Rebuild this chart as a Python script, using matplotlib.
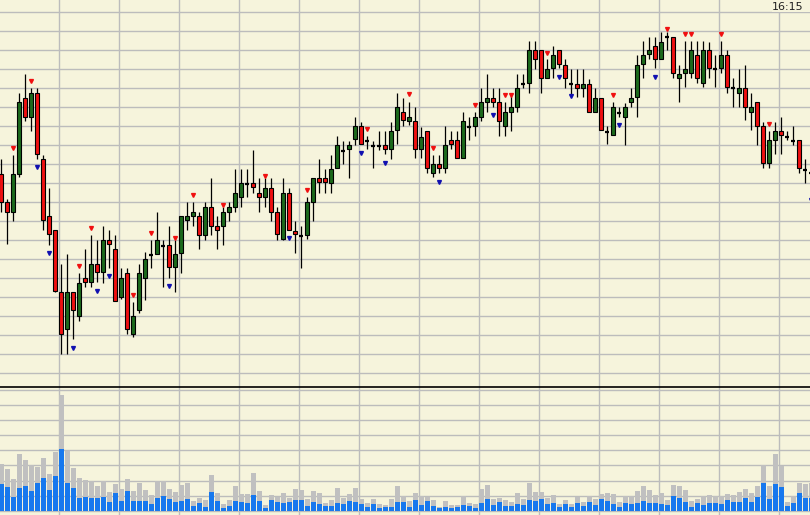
import matplotlib
matplotlib.use("Agg")
import matplotlib.pyplot as plt
import numpy as np
from matplotlib.patches import Rectangle

# price levels (arbitrary chart units), one entry per bar
opens = [212.7, 184.7, 175.3, 213.3, 288.7, 270.3, 293.7, 228, 171, 156.7,
         94.7, 57.7, 94.7, 71.3, 108.7, 104.7, 123, 114.7, 146.7, 137.7,
         90.3, 113.7, 52.7, 77, 109.3, 132.3, 133.3, 141, 141.7, 119.7,
         133.7, 166.7, 171.3, 170.7, 152.3, 179.7, 160.7, 161, 175.3, 180.3,
         190.3, 203.3, 203.7, 193.7, 190.3, 198.7, 174.7, 147.7, 193.7, 156.3,
         151.3, 152, 185.3, 208.7, 208.7, 204.3, 218.7, 236.3, 237.7, 247.7,
         261, 246.3, 241.3, 241.3, 241.7, 237.7, 257, 274.7, 266.3, 266,
         237.7, 256, 213.7, 222.7, 218.7, 247, 247, 228.7, 260.3, 261,
         270.3, 285.3, 288.7, 284.7, 261.3, 275.3, 280.3, 302.7, 303.7, 337,
         337, 308.7, 318.7, 337, 322, 302.7, 302.7, 299.3, 302.7, 275.3,
         288.7, 255.3, 252, 274.3, 270.3, 285.3, 289.7, 322.7, 332.7, 341,
         327.7, 350.3, 350.3, 308.7, 313.7, 313.7, 332, 303.7, 337, 317.7,
         318.7, 332, 298.7, 294.3, 298.7, 275.3, 285.3, 261, 223.7, 247,
         256, 250.3, 246.3, 247, 217, 214]
highs = [228, 188, 232, 293.7, 313, 298.7, 298.7, 232, 199.3, 157,
         123, 133, 94.7, 113.7, 137.7, 152, 147, 161.3, 156.7, 152,
         118.7, 118.7, 85.3, 122.7, 135.3, 147, 175.3, 147, 161, 147,
         170.7, 184.7, 184.7, 175.3, 184.7, 208.7, 170.7, 179.7, 184.7, 218,
         218, 218, 237, 208.7, 208.7, 208.7, 179.7, 208.7, 198.7, 166,
         161, 189.7, 208.7, 227.7, 218, 232, 251, 246.3, 246.3, 270.3,
         265.3, 251, 246.3, 256, 256, 265.5, 294, 288.7, 284.7, 279.7,
         260.3, 256, 232, 232, 261, 256.3, 256.3, 275.3, 269.7, 275.3,
         298.7, 313, 298.7, 298.7, 284.7, 293.7, 313, 313, 346, 346,
         337, 327.7, 341, 337, 327.7, 317.7, 317.7, 317.7, 307.7, 298.7,
         288.7, 261, 285.3, 279.7, 284.3, 298.7, 332, 346, 350.3, 350.3,
         355.3, 355.3, 350.3, 322, 346.3, 346.3, 346.3, 346.3, 345.3, 332,
         346.3, 337, 308.7, 317.7, 322, 294.3, 285.3, 265.3, 256, 265.3,
         269.7, 256, 261, 247, 227.7, 218]
lows = [175.3, 142.7, 166, 209.7, 266, 256.3, 228, 157, 142, 95,
        33, 33, 47.7, 66.3, 100.3, 100.3, 104.7, 104.3, 119.3, 86,
        88, 52.7, 50, 74, 87, 119.3, 133.3, 100.3, 109.3, 95.3,
        114.3, 157, 161, 138, 147, 152.3, 138, 142, 166, 175.3,
        180.3, 189.7, 194.3, 175.3, 180.3, 166, 147, 147, 157, 133.7,
        119.3, 147.7, 166, 194.3, 194.3, 194.3, 218.7, 223, 209.3, 242,
        242.7, 237.7, 218.7, 237, 233, 228.5, 242.7, 261, 262, 228.7,
        228.7, 213.7, 209.7, 213.7, 213.7, 237.7, 228.7, 228.7, 247, 251,
        266, 275.3, 280.3, 251.3, 251.3, 256.3, 275.3, 299, 294.3, 318,
        294.3, 308.7, 308.7, 318.7, 299.3, 289.7, 289.7, 289.7, 275.3, 275.3,
        257, 242.7, 252, 270.3, 242, 279.7, 270.3, 308.7, 327.7, 318.7,
        327.7, 337, 308.7, 285.3, 299.7, 308.7, 303.7, 299.7, 308.7, 299.7,
        313.7, 294.3, 280.3, 280.3, 267, 257, 242, 218.7, 218.7, 233,
        233, 247, 242, 213.7, 204.3, 195]
closes = [185.3, 175.3, 212.7, 284.7, 270.3, 293.7, 232.7, 166.7, 152.7, 95.7,
          52.7, 94.7, 77, 103.7, 104.7, 123, 114.7, 146.7, 142.7, 86,
          108.7, 57.7, 70.7, 113.7, 128, 132.3, 147, 141, 119.7, 132.7,
          170.7, 170.7, 175, 152.3, 179.7, 161, 157.3, 175, 179.7, 193.7,
          203.7, 203.3, 199.7, 190.3, 198.7, 175.3, 152.7, 193.7, 157, 152.7,
          151.3, 184.7, 208.7, 204.7, 204.7, 217.7, 241.7, 236.3, 241.7, 261,
          242.7, 246.3, 241.3, 241.3, 237.7, 256, 279.7, 267, 269.7, 237.7,
          250.3, 218.7, 222.7, 218.7, 241.7, 242.7, 228.7, 266, 260.3, 269.7,
          284.7, 288.7, 285.3, 266, 274.7, 279.7, 298.7, 302.7, 337, 327.7,
          308.7, 317.7, 332, 322.7, 308.7, 302.7, 299.3, 302.7, 275.3, 288.7,
          257, 255.3, 279.7, 274.3, 279.7, 288.7, 322, 332, 337, 327.7,
          345.3, 350.3, 313.7, 313, 317.7, 337, 308.7, 337, 318.7, 317.7,
          332, 299.7, 298.7, 298.7, 280.3, 280.3, 261.3, 223.7, 247, 256,
          252, 250.3, 246.3, 218.7, 217, 214]

# volume: total (grey) and the blue part
vol_total = [46.7, 41.7, 31.7, 56.7, 50.7, 45.7, 43.7, 52.7, 36.7, 58.7,
             115.7, 60, 42.7, 32.7, 30.7, 29.7, 24.7, 29.7, 18.7, 26.7,
             21.7, 31.7, 19.7, 27.7, 20.7, 15.7, 29.7, 29.7, 21.7, 18.7,
             25.7, 27.7, 9.7, 12.7, 10.7, 35.7, 17.7, 6.7, 10.7, 24.7,
             16.7, 16.7, 37.7, 19.7, 5.7, 15.7, 14, 17.7, 12.7, 21.7,
             20.7, 11.7, 19.7, 17.7, 7.7, 10.7, 22.7, 12.7, 16.7, 22.7,
             11.7, 7.7, 11.7, 6.7, 5.7, 11.7, 24.7, 14.7, 9.7, 17.7,
             14.7, 14, 10.7, 3.7, 9.7, 5.7, 5.7, 14.7, 7.7, 6.7,
             21.7, 25.7, 11.7, 12.7, 10.7, 8.7, 17.7, 11.7, 27.7, 18.7,
             18.7, 12.7, 15.7, 6.7, 10.7, 6.7, 13.7, 8.7, 14.7, 11.7,
             16.7, 17.7, 16.7, 8.7, 14.7, 14.7, 19.7, 24.7, 20.7, 15.7,
             17.7, 10.7, 25.7, 24.7, 20.7, 9.7, 11.7, 14.7, 15.7, 14.7,
             14.7, 16.7, 15.7, 18.7, 21.7, 17.7, 24.7, 45.7, 24.7, 56.7,
             44.7, 8.7, 14.7, 27.7, 26.7, 27.4]
vol_blue = [26.7, 23.7, 13.7, 22.7, 24.7, 19.7, 27.7, 32.7, 20.7, 34.7,
            61.7, 27.7, 22.7, 12.7, 13.7, 12.7, 12.7, 13.7, 8.7, 17.7,
            9.7, 19.7, 9.7, 9.7, 9.7, 6.7, 12.7, 14.7, 11.7, 8.7,
            9.7, 11.7, 4.7, 7.7, 3.7, 18.7, 9.7, 2.7, 4.7, 9.7,
            8.7, 7.7, 15.7, 9.7, 2.7, 10.7, 8.7, 7.7, 8.7, 10.7,
            10.7, 4.7, 8.7, 6.7, 4.7, 4.7, 7.7, 6.7, 9.7, 8.7,
            6.7, 3.7, 6.7, 2.7, 3.7, 3.7, 8.7, 8.7, 3.7, 10.7,
            5.7, 9.7, 4.7, 2.7, 3.7, 2.7, 3.7, 5.7, 4.7, 2.7,
            7.7, 11.7, 5.7, 8.7, 4.7, 4.7, 6.7, 5.7, 10.7, 9.7,
            11.7, 6.7, 7.7, 3.7, 6.7, 3.7, 7.7, 4.7, 8.7, 5.7,
            11.7, 9.7, 6.7, 3.7, 7.7, 6.7, 7.7, 9.7, 7.7, 7.7,
            6.7, 5.7, 14.7, 12.7, 8.7, 3.7, 7.7, 5.7, 7.7, 7.7,
            6.7, 10.7, 8.7, 8.7, 12.7, 8.7, 13.7, 27.7, 11.7, 26.7,
            23.7, 4.7, 7.7, 17.7, 12.7, 12.4]

# signal marks: (bar index, level)
red_marks = [(2, 239), (5, 306), (13, 120.7), (15, 159), (22, 92), (25, 154.3),
             (29, 148.7), (32, 192), (37, 182), (44, 211), (51, 197), (61, 257.7),
             (68, 292.7), (72, 239.3), (79, 282), (84, 292), (85, 292), (91, 333.7),
             (102, 292), (111, 358), (114, 353), (115, 353), (120, 353), (128, 263)]
blue_marks = [(6, 219.7), (8, 133.7), (12, 39), (16, 96.3), (18, 110.7), (28, 101),
              (48, 148.7), (60, 234), (64, 224.3), (73, 204.7), (82, 271.7),
              (93, 309.7), (95, 290.7), (103, 262), (109, 309.7), (135, 187)]

time_label = "16:15"

bg = "#f6f4dc"
grid_c = "#bcbcbc"
up_c = "#1c6a1c"
down_c = "#f01010"

o = np.array(opens)
h = np.array(highs)
l = np.array(lows)
c = np.array(closes)
x = np.arange(len(o))

fig = plt.figure(figsize=(8.1, 5.15), dpi=100, facecolor=bg)
ax = fig.add_axes([0, 128.3 / 515, 1, 386.7 / 515])
axv = fig.add_axes([0, 0, 1, 128.3 / 515])

xlim = (-1.3 / 6, (810 - 1.3) / 6)
vgrid = np.arange(9.57, 135, 10)

for a in (ax, axv):
    a.set_facecolor(bg)
    a.set_xlim(*xlim)
    a.set_xticks(vgrid)
    a.tick_params(length=0, labelbottom=False, labelleft=False)
    a.grid(True, color=grid_c, linewidth=1.0)
    a.set_axisbelow(True)
    for s in a.spines.values():
        s.set_visible(False)

ax.set_ylim(0.3, 387)
ax.set_yticks(np.arange(13.7, 387, 19))
axv.set_ylim(-4.3, 124)
axv.set_yticks(np.arange(0, 124, 15.1))
axv.spines["top"].set_visible(True)
axv.spines["top"].set_color("black")
axv.spines["top"].set_linewidth(1.2)

# wicks
ax.vlines(x, l, h, color="black", linewidth=0.9, zorder=2)

bw = 0.68
up = c > o
down = c < o
flat = c == o
ax.bar(x[up], (c - o)[up], bottom=o[up], width=bw, color=up_c,
       edgecolor="black", linewidth=0.8, zorder=3)
ax.bar(x[down], (o - c)[down], bottom=c[down], width=bw, color=down_c,
       edgecolor="black", linewidth=0.8, zorder=3)
ax.hlines(o[flat], x[flat] - bw / 2, x[flat] + bw / 2,
          color="black", linewidth=1.6, zorder=3)

rx, ry = zip(*red_marks)
bx, by = zip(*blue_marks)
ax.plot(rx, ry, linestyle="none", marker="v", markersize=2.8,
        color="#f01010", zorder=4)
ax.plot(bx, by, linestyle="none", marker="v", markersize=2.8,
        color="#1010b0", zorder=4)

# volume
axv.bar(x, vol_total, width=0.8, color="#c0c0c0", zorder=2)
axv.bar(x, vol_blue, width=0.8, color="#1778ee", zorder=3)

# time label in the top right corner
fig.patches.append(Rectangle((772 / 810, 1 - 11.5 / 515), 38 / 810, 11.5 / 515,
                             transform=fig.transFigure, facecolor=bg,
                             edgecolor="none", zorder=5))
fig.text(803.5 / 810, 1 - 10.3 / 515, time_label, ha="right", va="baseline",
         fontsize=8, color="#202020", zorder=6)

fig.savefig("out.png", dpi=100, facecolor=bg)
